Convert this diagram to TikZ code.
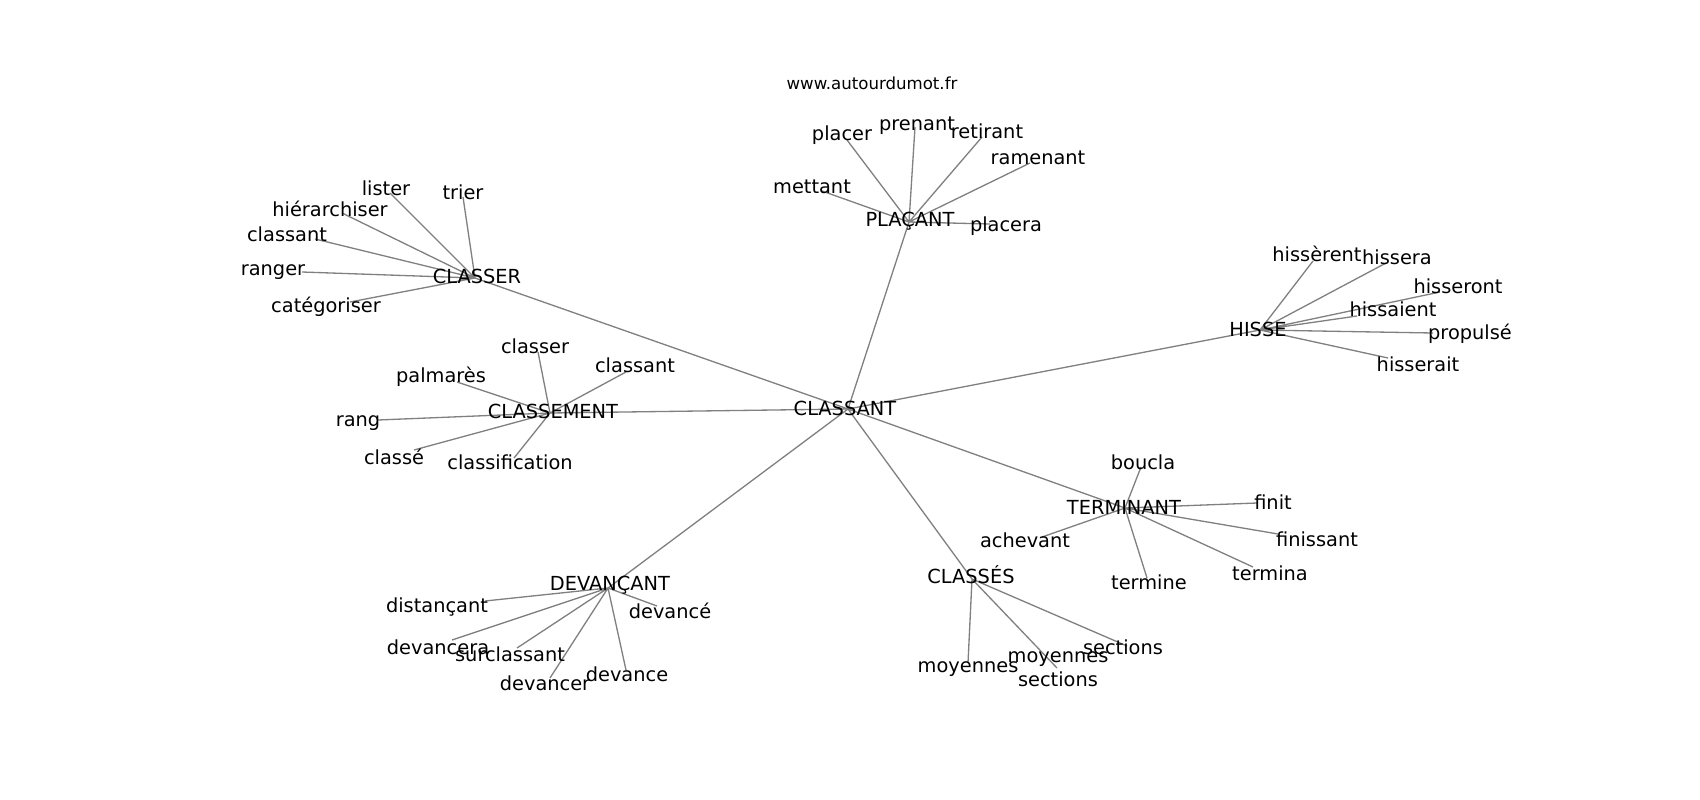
\documentclass[tikz,border=0pt]{standalone}
\usepackage{fontspec}
\setmainfont{DejaVu Sans}
\usepackage{tikz}

\begin{document}
\begin{tikzpicture}[x=0.254mm,y=-0.254mm,semithick,
  word/.style={inner sep=0pt,font=\fontsize{14}{17.5}\selectfont},
  site/.style={inner sep=0pt,font=\fontsize{12}{14}\selectfont},
  edge/.style={draw=black!50,line width=0.95pt}]
\useasboundingbox (0,0) rectangle (1700,800);
\coordinate (c) at (848,409);
\coordinate (A) at (475,278);\coordinate (P) at (909,222);\coordinate (H) at (1260,330);
\coordinate (M) at (550,413);\coordinate (T) at (1125,508);\coordinate (S) at (972,579);
\coordinate (D) at (608,588);
\coordinate (A1) at (390,193);\coordinate (A2) at (463,197);\coordinate (A3) at (342,213);
\coordinate (A4) at (315,239);\coordinate (A5) at (302,272);\coordinate (A6) at (350,302);
\coordinate (P1) at (847,140);\coordinate (P2) at (915,127);\coordinate (P3) at (982,137);
\coordinate (P4) at (1030,163);\coordinate (P5) at (822,191);\coordinate (P6) at (990,224);
\coordinate (H1) at (1313,261);\coordinate (H2) at (1386,263);\coordinate (H3) at (1440,292);
\coordinate (H4) at (1357,316);\coordinate (H5) at (1433,333);\coordinate (H6) at (1388,358);
\coordinate (M1) at (538,352);\coordinate (M2) at (457,382);\coordinate (M3) at (626,372);
\coordinate (M4) at (378,420);\coordinate (M5) at (414,450);\coordinate (M6) at (514,458);
\coordinate (T1) at (1141,467);\coordinate (T2) at (1257,503);\coordinate (T3) at (1278,534);
\coordinate (T4) at (1042,537);\coordinate (T5) at (1253,567);\coordinate (T6) at (1147,578);
\coordinate (S1) at (968,663);\coordinate (S2) at (1057,668);\coordinate (S3) at (1127,646);
\coordinate (D1) at (485,601);\coordinate (D2) at (452,640);\coordinate (D3) at (517,648);
\coordinate (D4) at (550,678);\coordinate (D5) at (626,670);\coordinate (D6) at (657,606);
\draw[edge](c)--(A)(c)--(P)(c)--(H)(c)--(M)(c)--(T)(c)--(S)(c)--(D);
\draw[edge](A)--(A1)(A)--(A2)(A)--(A3)(A)--(A4)(A)--(A5)(A)--(A6);
\draw[edge](P)--(P1)(P)--(P2)(P)--(P3)(P)--(P4)(P)--(P5)(P)--(P6);
\draw[edge](H)--(H1)(H)--(H2)(H)--(H3)(H)--(H4)(H)--(H5)(H)--(H6);
\draw[edge](M)--(M1)(M)--(M2)(M)--(M3)(M)--(M4)(M)--(M5)(M)--(M6);
\draw[edge](T)--(T1)(T)--(T2)(T)--(T3)(T)--(T4)(T)--(T5)(T)--(T6);
\draw[edge](S)--(S1)(S)--(S2)(S)--(S3);
\draw[edge](D)--(D1)(D)--(D2)(D)--(D3)(D)--(D4)(D)--(D5)(D)--(D6);
\node[site] (url) at (872,83) {www.autourdumot.fr};
\node[word] (lc) at (845,408) {CLASSANT};
\node[word] (lA) at (477,276) {CLASSER};
\node[word] (lA1) at (386,188) {lister};
\node[word] (lA2) at (463,192) {trier};
\node[word] (lA3) at (330,209) {hiérarchiser};
\node[word] (lA4) at (287,234) {classant};
\node[word] (lA5) at (273,272) {ranger};
\node[word] (lA6) at (326,307) {catégoriser};
\node[word] (lP) at (910,221) {PLAÇANT};
\node[word] (lP1) at (842,135) {placer};
\node[word] (lP2) at (917,126) {prenant};
\node[word] (lP3) at (987,131) {retirant};
\node[word] (lP4) at (1038,158) {ramenant};
\node[word] (lP5) at (812,187) {mettant};
\node[word] (lP6) at (1006,226) {placera};
\node[word] (lH) at (1258,329) {HISSE};
\node[word] (lH1) at (1317,254) {hissèrent};
\node[word] (lH2) at (1397,257) {hissera};
\node[word] (lH3) at (1458,286) {hisseront};
\node[word] (lH4) at (1393,309) {hissaient};
\node[word] (lH5) at (1470,334) {propulsé};
\node[word] (lH6) at (1418,364) {hisserait};
\node[word] (lM) at (553,411) {CLASSEMENT};
\node[word] (lM1) at (535,346) {classer};
\node[word] (lM2) at (441,377) {palmarès};
\node[word] (lM3) at (635,365) {classant};
\node[word] (lM4) at (358,423) {rang};
\node[word] (lM5) at (394,457) {classé};
\node[word] (lM6) at (510,462) {classification};
\node[word] (lT) at (1124,507) {TERMINANT};
\node[word] (lT1) at (1143,462) {boucla};
\node[word] (lT2) at (1273,502) {finit};
\node[word] (lT3) at (1317,539) {finissant};
\node[word] (lT4) at (1025,540) {achevant};
\node[word] (lT5) at (1270,573) {termina};
\node[word] (lT6) at (1149,582) {termine};
\node[word] (lS) at (971,575) {CLASSÉS};
\node[word] (lS1) at (968,669) {moyennes};
\node[word,align=center] (lS2) at (1058,669) {moyennes\\sections};
\node[word] (lS3) at (1123,647) {sections};
\node[word] (lD) at (610,585) {DEVANÇANT};
\node[word] (lD1) at (437,607) {distançant};
\node[word] (lD2) at (438,647) {devancera};
\node[word] (lD3) at (510,654) {surclassant};
\node[word] (lD4) at (545,683) {devancer};
\node[word] (lD5) at (627,674) {devance};
\node[word] (lD6) at (670,611) {devancé};
\end{tikzpicture}
\end{document}
